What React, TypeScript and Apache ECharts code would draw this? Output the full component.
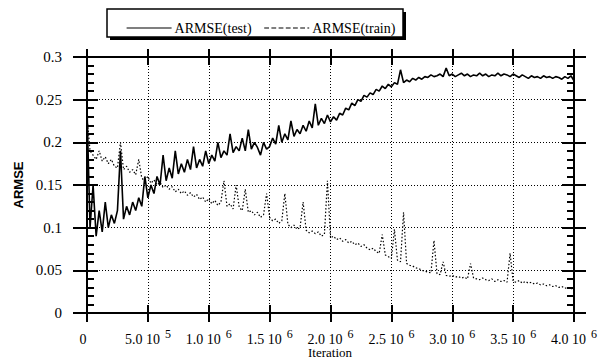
import React, { useEffect, useRef } from 'react';
import * as echarts from 'echarts';

const STEP = 25000;
const seriesNames = ['ARMSE(test)', 'ARMSE(train)'];
const xAxisTitle = 'Iteration';
const yTickValues = [0, 0.05, 0.1, 0.15, 0.2, 0.25, 0.3];
const xTickLabels: Record<number, string> = {
  0: '0',
  500000: '5.0 10|5',
  1000000: '1.0 10|6',
  1500000: '1.5 10|6',
  2000000: '2.0 10|6',
  2500000: '2.5 10|6',
  3000000: '3.0 10|6',
  3500000: '3.5 10|6',
  4000000: '4.0 10|6',
};

const testValues = [
  0.24, 0.10, 0.15, 0.09, 0.12, 0.095, 0.13, 0.10, 0.115, 0.105,
  0.12, 0.19, 0.11, 0.125, 0.115, 0.13, 0.12, 0.135, 0.125, 0.16,
  0.135, 0.15, 0.14, 0.16, 0.15, 0.185, 0.155, 0.17, 0.158, 0.19,
  0.163, 0.175, 0.165, 0.18, 0.168, 0.195, 0.17, 0.18, 0.172, 0.19,
  0.175, 0.185, 0.178, 0.2, 0.182, 0.19, 0.185, 0.21, 0.188, 0.195,
  0.19, 0.205, 0.19, 0.215, 0.192, 0.2, 0.194, 0.185, 0.2, 0.192,
  0.195, 0.205, 0.198, 0.22, 0.2, 0.21, 0.203, 0.225, 0.207, 0.215,
  0.21, 0.22, 0.213, 0.225, 0.217, 0.245, 0.22, 0.228, 0.222, 0.232,
  0.224, 0.23, 0.226, 0.234, 0.232, 0.24, 0.238, 0.246, 0.243, 0.25,
  0.248, 0.255, 0.253, 0.258, 0.256, 0.262, 0.26, 0.266, 0.263, 0.268,
  0.265, 0.27, 0.268, 0.285, 0.27, 0.273, 0.271, 0.275, 0.273, 0.276,
  0.274, 0.277, 0.276, 0.279, 0.277, 0.278, 0.28, 0.277, 0.287, 0.278,
  0.28, 0.277, 0.279, 0.281, 0.278, 0.28, 0.277, 0.279, 0.278, 0.281,
  0.278, 0.28, 0.277, 0.279, 0.278, 0.281, 0.278, 0.28, 0.279, 0.277,
  0.28, 0.278, 0.276, 0.279, 0.277, 0.275, 0.278, 0.276, 0.277, 0.275,
  0.278, 0.276, 0.277, 0.275, 0.277, 0.276, 0.274, 0.277, 0.275, 0.278,
  0.272,
];

const trainValues = [
  0.23, 0.19, 0.185, 0.18, 0.19, 0.178, 0.183, 0.175, 0.18, 0.172,
  0.17, 0.2, 0.168, 0.172, 0.165, 0.168, 0.162, 0.18, 0.158, 0.155,
  0.16, 0.152, 0.156, 0.15, 0.153, 0.147, 0.15, 0.145, 0.148, 0.142,
  0.145, 0.14, 0.143, 0.138, 0.141, 0.136, 0.139, 0.133, 0.136, 0.13,
  0.134, 0.128, 0.132, 0.126, 0.13, 0.155, 0.125, 0.128, 0.122, 0.15,
  0.124, 0.12, 0.145, 0.118, 0.12, 0.115, 0.118, 0.112, 0.115, 0.14,
  0.112, 0.108, 0.11, 0.105, 0.108, 0.14, 0.104, 0.1, 0.103, 0.098,
  0.1, 0.13, 0.097, 0.094, 0.096, 0.093, 0.095, 0.09, 0.092, 0.155,
  0.088, 0.09, 0.086, 0.088, 0.084, 0.086, 0.082, 0.084, 0.08, 0.082,
  0.078, 0.08, 0.076, 0.074, 0.076, 0.072, 0.07, 0.092, 0.068, 0.066,
  0.064, 0.098, 0.062, 0.06, 0.118, 0.058, 0.056, 0.055, 0.053, 0.052,
  0.05, 0.049, 0.048, 0.047, 0.085, 0.046, 0.045, 0.06, 0.044, 0.043,
  0.044, 0.042, 0.043, 0.041, 0.042, 0.04, 0.058, 0.041, 0.04, 0.039,
  0.041, 0.039, 0.038, 0.04, 0.037, 0.039, 0.037, 0.038, 0.036, 0.07,
  0.037, 0.036, 0.038, 0.035, 0.037, 0.035, 0.036, 0.034, 0.035, 0.033,
  0.034, 0.032, 0.033, 0.031, 0.032, 0.03, 0.031, 0.029, 0.03, 0.028,
  0.03,
];

const SERIF = 'Liberation Serif, serif';
const SANS = 'Liberation Sans, sans-serif';

export default function App() {
  const ref = useRef<HTMLDivElement>(null);

  useEffect(() => {
    if (!ref.current) return;
    const chart = echarts.init(ref.current, undefined, { renderer: 'svg' });

    const yMin = yTickValues[0];
    const yMax = yTickValues[yTickValues.length - 1];
    const yInterval = yTickValues[1] - yTickValues[0];
    const xMax = 4000000;
    const xInterval = 500000;

    const axisLine = { show: true, onZero: false, lineStyle: { color: '#000', width: 2 } };

    const baseY = {
      type: 'value',
      min: yMin,
      max: yMax,
      interval: yInterval,
      axisLine,
      splitLine: { show: false },
      axisLabel: { show: false },
    };
    const baseX = {
      type: 'value',
      min: 0,
      max: xMax,
      interval: xInterval,
      axisLine,
      splitLine: { show: false },
      axisLabel: { show: false },
    };

    const option: any = {
      animation: false,
      backgroundColor: '#fff',
      textStyle: { fontFamily: SERIF },
      grid: { left: 87, right: 30, top: 57, bottom: 51, containLabel: false, outerBoundsMode: 'none' },
      graphic: [
        { type: 'rect', z: 0, shape: { x: 110, y: 12, width: 296, height: 28 }, style: { fill: '#000' } },
        { type: 'rect', z: 1, shape: { x: 107, y: 9, width: 296, height: 28 }, style: { fill: '#fff', stroke: '#000', lineWidth: 1.5 } },
        {
          type: 'text',
          z: 5,
          x: 330,
          y: 352,
          style: {
            text: xAxisTitle,
            fontFamily: SERIF,
            fontSize: 13,
            fill: '#000',
            align: 'center',
            verticalAlign: 'middle',
          },
        },
      ],
      legend: {
        left: 121,
        top: 16,
        z: 5,
        itemWidth: 45,
        itemHeight: 12,
        itemGap: 12,
        textStyle: { fontFamily: SERIF, fontSize: 14, color: '#000', padding: [0, 0, 0, -2] },
        data: [
          { name: seriesNames[0], itemStyle: { opacity: 0 }, lineStyle: { type: 'solid', width: 1.2, color: '#000' } },
          { name: seriesNames[1], itemStyle: { opacity: 0 }, lineStyle: { type: 'dashed', width: 1.2, color: '#000' } },
        ],
      },
      xAxis: [
        {
          ...baseX,
          position: 'bottom',
          axisTick: { show: true, inside: false, length: 9, lineStyle: { color: '#000', width: 2 } },
          splitLine: { show: true, lineStyle: { type: [1, 2], color: '#000', width: 1 } },
          axisLabel: {
            show: true,
            margin: 15,
            color: '#000',
            fontFamily: SERIF,
            fontSize: 14,
            formatter: (v: number) => {
              const t = xTickLabels[v];
              if (t === undefined) return '';
              const parts = t.split('|');
              if (parts.length === 1) return `{m|${parts[0]}}{s| }`;
              return `{m|${parts[0]}}{s|${parts[1]}}`;
            },
            rich: {
              m: { fontFamily: SERIF, fontSize: 14, color: '#000', verticalAlign: 'bottom' },
              s: { fontFamily: SERIF, fontSize: 12, color: '#000', verticalAlign: 'bottom', padding: [0, 0, 6, 5] },
            },
          },
        },
        { ...baseX, position: 'bottom', axisTick: { show: true, inside: true, length: 8, lineStyle: { color: '#000', width: 2 } } },
        { ...baseX, position: 'top', axisTick: { show: true, inside: true, length: 8, lineStyle: { color: '#000', width: 2 } } },
        { ...baseX, position: 'top', axisTick: { show: true, inside: false, length: 8, lineStyle: { color: '#000', width: 2 } } },
      ],
      yAxis: [
        {
          ...baseY,
          position: 'left',
          name: 'ARMSE',
          nameLocation: 'middle',
          nameGap: 60,
          nameTextStyle: { fontFamily: SANS, fontSize: 13, fontWeight: 'bold', color: '#000' },
          axisTick: { show: true, inside: false, length: 14, lineStyle: { color: '#000', width: 2 } },
          splitLine: { show: true, lineStyle: { type: [1, 2], color: '#000', width: 1 } },
          axisLabel: {
            show: true,
            margin: 25,
            color: '#000',
            fontFamily: SERIF,
            fontSize: 15,
            formatter: (v: number) => String(v),
          },
        },
        {
          ...baseY,
          position: 'left',
          axisTick: { show: true, inside: true, length: 11, lineStyle: { color: '#000', width: 2 } },
          minorTick: { show: true, splitNumber: 5, length: 7, lineStyle: { color: '#000', width: 2 } },
        },
        {
          ...baseY,
          position: 'right',
          axisTick: { show: true, inside: true, length: 12, lineStyle: { color: '#000', width: 2 } },
          minorTick: { show: true, splitNumber: 5, length: 7, lineStyle: { color: '#000', width: 2 } },
        },
        {
          ...baseY,
          position: 'right',
          axisTick: { show: true, inside: false, length: 12, lineStyle: { color: '#000', width: 2 } },
        },
      ],
      series: [
        {
          name: seriesNames[0],
          type: 'line',
          xAxisIndex: 0,
          yAxisIndex: 0,
          symbol: 'none',
          z: 3,
          lineStyle: { color: '#000', width: 1.6 },
          data: testValues.map((v, i) => [i * STEP, v]),
        },
        {
          name: seriesNames[1],
          type: 'line',
          xAxisIndex: 0,
          yAxisIndex: 0,
          symbol: 'none',
          z: 2,
          lineStyle: { color: '#000', width: 1.2, type: [1.5, 2] },
          data: trainValues.map((v, i) => [i * STEP, v]),
        },
      ],
    };

    chart.setOption(option);
    return () => chart.dispose();
  }, []);

  return <div ref={ref} style={{ width: 604, height: 364, position: 'absolute', left: 0, top: 0 }} />;
}
